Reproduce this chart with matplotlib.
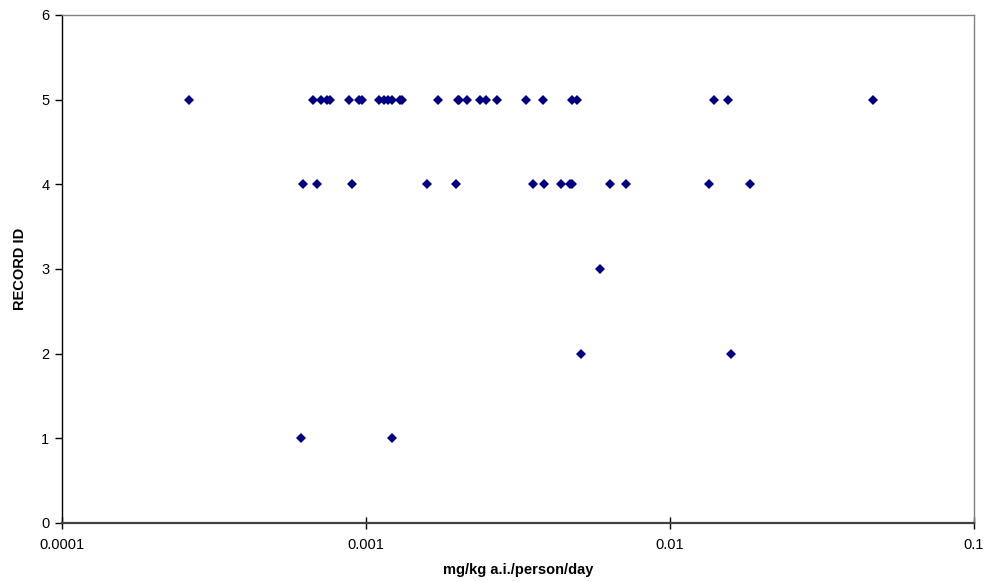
import matplotlib
matplotlib.use("Agg")
import matplotlib.pyplot as plt
from matplotlib.ticker import FixedLocator, FixedFormatter, NullLocator

plt.rcParams['font.family'] = ['Liberation Sans', 'DejaVu Sans']

# Exposure values (mg/kg a.i./person/day) by record ID
rec5 = [2.62e-4, 6.69e-4, 7.10e-4, 7.42e-4, 7.63e-4, 8.81e-4, 9.45e-4, 9.70e-4,
        1.103e-3, 1.147e-3, 1.180e-3, 1.222e-3, 1.294e-3, 1.318e-3, 1.73e-3,
        2.003e-3, 2.028e-3, 2.145e-3, 2.371e-3, 2.476e-3, 2.704e-3, 3.36e-3,
        3.81e-3, 4.77e-3, 4.94e-3, 1.396e-2, 1.552e-2, 4.67e-2]
rec4 = [6.22e-4, 6.92e-4, 9.01e-4, 1.591e-3, 1.977e-3, 3.55e-3, 3.84e-3,
        4.39e-3, 4.69e-3, 4.76e-3, 6.35e-3, 7.18e-3, 1.347e-2, 1.837e-2]
rec3 = [5.90e-3]
rec2 = [5.09e-3, 1.588e-2]
rec1 = [6.10e-4, 1.215e-3]

records = {5: rec5, 4: rec4, 3: rec3, 2: rec2, 1: rec1}

xticks = [0.0001, 0.001, 0.01, 0.1]
xticklabels = ["0.0001", "0.001", "0.01", "0.1"]
yticks = [0, 1, 2, 3, 4, 5, 6]

fig = plt.figure(figsize=(9.87, 5.82), dpi=100)
ax = fig.add_axes([62/987, 59/582, (974-62)/987, (523-15)/582])

for rid, vals in records.items():
    ax.plot(vals, [rid]*len(vals), linestyle='none', marker='D',
            markersize=4.8, color='#000080', markeredgewidth=0)

ax.set_xscale('log')
ax.set_xlim(0.0001, 0.1)
ax.set_ylim(0, 6)
ax.xaxis.set_major_locator(FixedLocator(xticks))
ax.xaxis.set_major_formatter(FixedFormatter(xticklabels))
ax.xaxis.set_minor_locator(NullLocator())
ax.set_yticks(yticks)

for s in ['top', 'right']:
    ax.spines[s].set_color('#808080')
    ax.spines[s].set_linewidth(1.0)
ax.spines['left'].set_color('black')
ax.spines['left'].set_linewidth(1.0)
ax.spines['bottom'].set_color('#404040')
ax.spines['bottom'].set_linewidth(1.6)

ax.tick_params(axis='y', direction='out', length=5, width=1, labelsize=10.5, pad=4)
ax.tick_params(axis='x', direction='inout', length=8, width=1, labelsize=10.5, pad=7)

ax.set_xlabel('mg/kg a.i./person/day', fontsize=10.5, fontweight='bold', labelpad=8)
ax.set_ylabel('RECORD ID', fontsize=10.5, fontweight='bold', labelpad=10)

fig.savefig('out.png', dpi=100)
